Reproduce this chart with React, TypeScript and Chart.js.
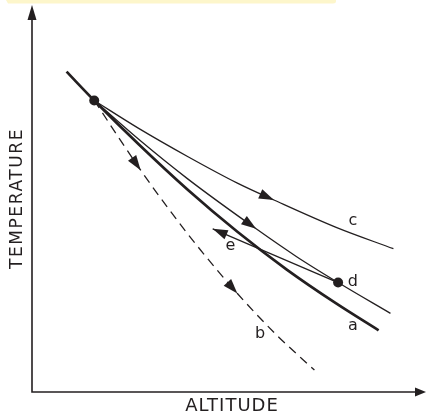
import React, { useEffect, useRef } from "react";
import { Chart, registerables } from "chart.js";

Chart.register(...registerables);

// Diagram values (arbitrary units: altitude 0–100, temperature 0–100)
const curveA = [
  { x: 8.77, y: 82.78 },
  { x: 15.79, y: 75.32 },
  { x: 27.07, y: 64.01 },
  { x: 39.6, y: 52.19 },
  { x: 52.13, y: 41.39 },
  { x: 64.66, y: 31.62 },
  { x: 77.19, y: 22.88 },
  { x: 87.97, y: 15.94 },
];
const curveB = [
  { x: 15.79, y: 75.32 },
  { x: 27.57, y: 57.33 },
  { x: 34.59, y: 47.43 },
  { x: 42.11, y: 37.53 },
  { x: 52.13, y: 25.45 },
  { x: 62.16, y: 14.65 },
  { x: 71.68, y: 5.66 },
];
const curveC = [
  { x: 15.79, y: 75.32 },
  { x: 27.07, y: 68.12 },
  { x: 39.6, y: 60.8 },
  { x: 52.13, y: 53.98 },
  { x: 61.4, y: 49.61 },
  { x: 77.19, y: 42.54 },
  { x: 91.73, y: 37.02 },
];
const curveD = [
  { x: 15.79, y: 75.32 },
  { x: 27.07, y: 65.3 },
  { x: 39.6, y: 55.01 },
  { x: 56.89, y: 42.16 },
  { x: 67.17, y: 34.96 },
  { x: 77.69, y: 28.28 },
  { x: 90.98, y: 20.31 },
];
const curveE = [
  { x: 77.69, y: 28.28 },
  { x: 45.86, y: 42.16 },
];
const statePoints = [
  { x: 15.79, y: 75.32 },
  { x: 77.69, y: 28.28 },
];
const arrowsB = [1, 4];
const arrowsC = [4];
const arrowsD = [3];
const arrowsE = [1];
const curveLabels = ["a", "b", "c", "d", "e"];
const labelX = [81.45, 57.89, 81.45, 81.45, 50.38];
const labelY = [15.94, 13.88, 43.06, 27.51, 36.63];
const xTitle = "ALTITUDE";
const yTitle = "TEMPERATURE";

const INK = "#231f20";

function drawArrow(ctx: CanvasRenderingContext2D, tx: number, ty: number, dx: number, dy: number, len: number, hw: number) {
  const m = Math.hypot(dx, dy) || 1;
  const ux = dx / m, uy = dy / m;
  const bx = tx - ux * len, by = ty - uy * len;
  ctx.beginPath();
  ctx.moveTo(tx, ty);
  ctx.lineTo(bx - uy * hw, by + ux * hw);
  ctx.lineTo(bx + uy * hw, by - ux * hw);
  ctx.closePath();
  ctx.fill();
}

const diagramPlugin = {
  id: "diagram",
  beforeDraw(chart: any) {
    const ctx = chart.ctx as CanvasRenderingContext2D;
    ctx.save();
    ctx.fillStyle = "#fdf6cb";
    ctx.beginPath();
    ctx.moveTo(6, 0);
    ctx.lineTo(336, 0);
    ctx.lineTo(336, 1);
    ctx.quadraticCurveTo(336, 3.5, 333, 3.5);
    ctx.lineTo(8, 3.5);
    ctx.closePath();
    ctx.fill();
    ctx.restore();
  },
  afterDatasetsDraw(chart: any) {
    const ctx = chart.ctx as CanvasRenderingContext2D;
    const { left, right, top, bottom } = chart.chartArea;
    const xs = chart.scales.x, ys = chart.scales.y;
    ctx.save();
    ctx.fillStyle = INK;
    ctx.strokeStyle = INK;
    // axes
    ctx.lineWidth = 1.6;
    ctx.beginPath();
    ctx.moveTo(left, top + 10);
    ctx.lineTo(left, bottom);
    ctx.lineTo(right - 8, bottom);
    ctx.stroke();
    drawArrow(ctx, left, top, 0, -1, 15, 4.5);
    drawArrow(ctx, right, bottom, 1, 0, 11, 4.5);

    // arrows along curves
    chart.data.datasets.forEach((ds: any, i: number) => {
      if (!ds.arrowAt) return;
      const meta = chart.getDatasetMeta(i);
      const pts = meta.data;
      ds.arrowAt.forEach((k: number) => {
        const p = pts[k];
        let dx = 0, dy = 0;
        if (p.cp1x !== undefined && p.cp2x !== undefined) {
          dx = p.cp2x - p.cp1x;
          dy = p.cp2y - p.cp1y;
        }
        if (Math.hypot(dx, dy) < 0.5) {
          const prev = pts[Math.max(0, k - 1)];
          const next = pts[Math.min(pts.length - 1, k + 1)];
          if (k > 0) { dx = p.x - prev.x; dy = p.y - prev.y; }
          else { dx = next.x - p.x; dy = next.y - p.y; }
        }
        drawArrow(ctx, p.x, p.y, dx, dy, 15, 5);
      });
    });

    // curve labels
    ctx.font = "16px 'DejaVu Sans'";
    ctx.textAlign = "center";
    ctx.textBaseline = "alphabetic";
    curveLabels.forEach((t, i) => {
      ctx.fillText(t, xs.getPixelForValue(labelX[i]), ys.getPixelForValue(labelY[i]));
    });

    // axis titles
    ctx.font = "18px 'DejaVu Sans'";
    (ctx as any).letterSpacing = "1px";
    ctx.textBaseline = "middle";
    ctx.fillText(xTitle, (left + right) / 2 + 3, bottom + 14);
    ctx.font = "17px 'DejaVu Sans'";
    ctx.translate(17.5, (top + bottom) / 2);
    ctx.rotate(-Math.PI / 2);
    (ctx as any).letterSpacing = "1.6px";
    ctx.fillText(yTitle, 0, 0);
    ctx.restore();
  },
};

export default function App() {
  const ref = useRef<HTMLCanvasElement | null>(null);
  useEffect(() => {
    if (!ref.current) return;
    const thin = {
      borderColor: INK,
      borderWidth: 1.3,
      pointRadius: 0,
      showLine: true,
      cubicInterpolationMode: "monotone",
      fill: false,
    };
    const chart = new Chart(ref.current, {
      type: "scatter",
      data: {
        datasets: [
          { ...thin, label: "a", data: curveA, borderWidth: 2.7 },
          { ...thin, label: "b", data: curveB, borderDash: [9, 6], arrowAt: arrowsB },
          { ...thin, label: "c", data: curveC, arrowAt: arrowsC },
          { ...thin, label: "d", data: curveD, arrowAt: arrowsD },
          { ...thin, label: "e", data: curveE, cubicInterpolationMode: "default", tension: 0, arrowAt: arrowsE },
          {
            label: "states",
            data: statePoints,
            showLine: false,
            pointRadius: 5,
            pointBackgroundColor: INK,
            pointBorderColor: INK,
            pointBorderWidth: 0,
          },
        ] as any,
      },
      options: {
        animation: false,
        responsive: false,
        devicePixelRatio: 1,
        layout: { padding: { left: 32, top: 3, right: 0, bottom: 24 } },
        plugins: { legend: { display: false }, tooltip: { enabled: false } },
        events: [],
        scales: {
          x: { type: "linear", min: 0, max: 100, display: false },
          y: { type: "linear", min: 0, max: 100, display: false },
        },
      },
      plugins: [diagramPlugin],
    });
    return () => chart.destroy();
  }, []);
  return (
    <div style={{ position: "fixed", left: 0, top: 0, width: 431, height: 416, background: "#fff" }}>
      <canvas ref={ref} width={431} height={416} />
    </div>
  );
}
